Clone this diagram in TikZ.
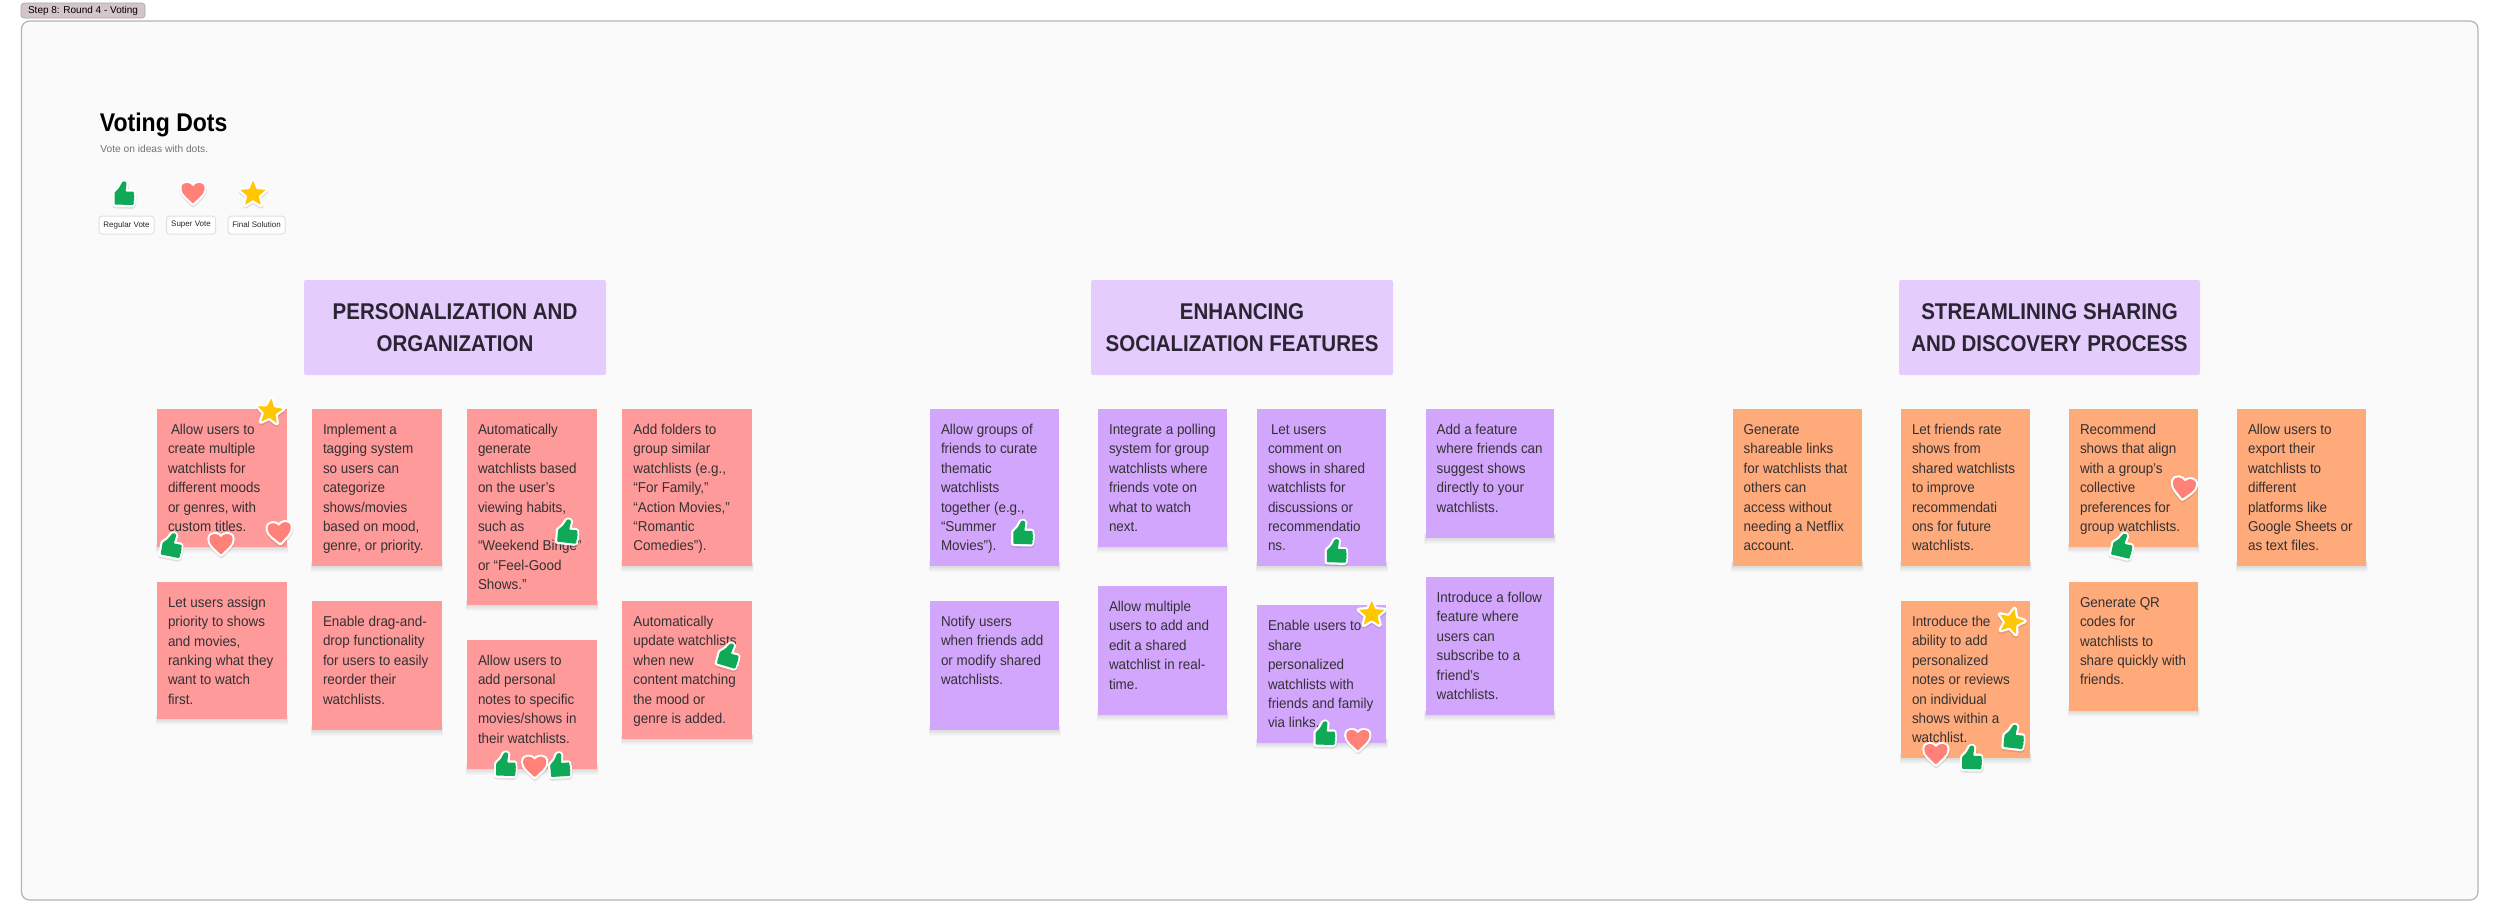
\documentclass[tikz,border=0pt]{standalone}
\usepackage{fontspec}
\setmainfont{Liberation Sans}
\newfontfamily\narrowf[FakeStretch=0.94]{Liberation Sans}
\newfontfamily\headf[FakeStretch=0.90]{Liberation Sans}
\usetikzlibrary{fit,calc}
\definecolor{framebg}{HTML}{FAFAFA}
\definecolor{frameln}{HTML}{B4B4B4}
\definecolor{tagbg}{HTML}{D3C5C8}
\definecolor{redst}{HTML}{FF9A9A}
\definecolor{purst}{HTML}{D2A6FC}
\definecolor{orast}{HTML}{FFAA7A}
\definecolor{headbg}{HTML}{E4CCFD}
\definecolor{headtx}{HTML}{2B2433}
\definecolor{stx}{HTML}{333133}
\definecolor{thumbc}{HTML}{0FA958}
\definecolor{heartc}{HTML}{FF8177}
\definecolor{starc}{HTML}{FFC700}
\tikzset{
  x=0.5pt,y=-0.5pt,
  boxfit/.style={fit={#1},inner sep=0pt,rectangle},
  note/.style={inner sep=0pt,align=left,text=stx,anchor=north west,font=\narrowf\fontsize{7.15}{9.7}\selectfont},
  headbox/.style={fill=headbg,rounded corners=1pt},
  headtext/.style={align=center,inner sep=0pt,text=headtx,font=\headf\fontsize{11.4}{16}\selectfont\bfseries},
  legbox/.style={fill=white,draw=black!12,line width=.5pt,rounded corners=1.5pt},
  legtext/.style={inner sep=0pt,text=black!85,font=\fontsize{4}{5}\selectfont},
  halo/.style={draw=white,fill=white,line width=2.2pt,line join=round},
  haloshadow/.style={draw=black,fill=black,opacity=.10,line width=2.4pt,line join=round}
}
\def\thumbpath{(-9.5,10.5) -- (-9.5,-1.5) -- (-5,-6) -- (-2,-11.5) .. controls (-1,-13) and (2.5,-13) .. (2.5,-10.5) -- (1.5,-2.5) -- (8.5,-2.5) .. controls (10,-2.5) and (10,0.5) .. (9,0.5) .. controls (10.5,0.5) and (10.5,4) .. (9,4) .. controls (10.5,4) and (10.5,7.5) .. (8.8,7.5) .. controls (10,8) and (10,11) .. (8,11) -- cycle}
\def\heartpath{(0,10.5) .. controls (-5,5.5) and (-11.5,1) .. (-11.5,-4.5) .. controls (-11.5,-8.5) and (-9,-10) .. (-6.2,-10) .. controls (-3.8,-10) and (-1.5,-8.8) .. (0,-6.5) .. controls (1.5,-8.8) and (3.8,-10) .. (6.2,-10) .. controls (9,-10) and (11.5,-8.5) .. (11.5,-4.5) .. controls (11.5,1) and (5,5.5) .. (0,10.5) -- cycle}
\def\starpath{(-90:13.5) -- (-54:6) -- (-18:13.5) -- (18:6) -- (54:13.5) -- (90:6) -- (126:13.5) -- (162:6) -- (198:13.5) -- (234:6) -- cycle}
% sticker: path macro, colour, x, y, rotation
\newcommand{\sticker}[5]{%
  \begin{scope}[shift={(#3,#4)},rotate=#5]
    \path[haloshadow,shift={(0.3,1.5)}] #1;
    \path[halo] #1;
    \fill[#2,rounded corners=.4pt] #1;
  \end{scope}}
\newcommand{\thumbv}[3]{\sticker{\thumbpath}{thumbc}{#1}{#2}{#3}}
\newcommand{\heartv}[3]{\sticker{\heartpath}{heartc}{#1}{#2}{#3}}
\newcommand{\starv}[3]{\sticker{\starpath}{starc}{#1}{#2}{#3}}
% sticky: name, colour, x1, y1, x2, y2, text
\newcommand{\sticky}[7]{%
  \foreach \d in {1,2,3,4,5,6}{\fill[black,opacity=.018] (#3-\d*0.25,#6-4) rectangle (#5+\d*0.25,#6+\d);}
  \node[boxfit={(#3,#4)(#5,#6)},fill=#2] (#1) {};
  \node[note] (#1-t) at ([shift={(11,14.5)}]#1.north west) {\rule{0pt}{5.5pt}#7};}
\begin{document}
\begin{tikzpicture}
\useasboundingbox (0,0) rectangle (2500,922);
\fill[white] (0,0) rectangle (2500,922);
% tag + frame
\node[boxfit={(21,3)(145,18)},fill=tagbg,draw=black!35,line width=.3pt,rounded corners=1.5pt] (tag) {};
\node[inner sep=0pt,text=black,font=\fontsize{5}{6}\selectfont] (tagt) at (tag.center) {Step 8: Round 4 - Voting};
\node[boxfit={(21.5,21)(2478,900)},fill=framebg,draw=frameln,line width=.6pt,rounded corners=4pt] (frame) {};
% title
\node[inner sep=0pt,anchor=base west,text=black,font=\headf\fontsize{12.8}{15}\selectfont\bfseries] (title) at (99.5,131) {Voting Dots};
\node[inner sep=0pt,anchor=base west,text=black!55,font=\fontsize{5.1}{7}\selectfont] (sub) at (100,152) {Vote on ideas with dots.};
% legend
\thumbv{124}{194}{0}
\heartv{193}{193}{0}
\starv{253}{194}{0}
\node[boxfit={(99,216)(154,234)},legbox] (l1) {};
\node[legtext] (l1t) at (l1.center) {Regular Vote};
\node[boxfit={(166.5,216)(215.5,234)},legbox] (l2) {};
\node[legtext] (l2t) at (l2.center) {Super Vote};
\node[boxfit={(228,216)(285,234)},legbox] (l3) {};
\node[legtext] (l3t) at (l3.center) {Final Solution};
% headers
\node[boxfit={(304,280)(606,375)},headbox] (h1) {};
\node[headtext] (h1t) at (h1.center) {PERSONALIZATION AND\\ORGANIZATION};
\node[boxfit={(1091,280)(1393,375)},headbox] (h2) {};
\node[headtext] (h2t) at (h2.center) {ENHANCING\\SOCIALIZATION FEATURES};
\node[boxfit={(1899,280)(2200,375)},headbox] (h3) {};
\node[headtext] (h3t) at (h3.center) {STREAMLINING SHARING\\AND DISCOVERY PROCESS};
% red stickies
\sticky{r1}{redst}{157}{409}{286.5}{547}{\hspace*{1.5pt}Allow users to\\create multiple\\watchlists for\\different moods\\or genres, with\\custom titles.}
\sticky{r2}{redst}{157}{581.7}{286.5}{719}{Let users assign\\priority to shows\\and movies,\\ranking what they\\want to watch\\first.}
\sticky{r3}{redst}{312}{409}{441.6}{566}{Implement a\\tagging system\\so users can\\categorize\\shows/movies\\based on mood,\\genre, or priority.}
\sticky{r4}{redst}{312}{601}{441.6}{730}{Enable drag-and-\\drop functionality\\for users to easily\\reorder their\\watchlists.}
\sticky{r5}{redst}{467}{409}{597}{605}{Automatically\\generate\\watchlists based\\on the user’s\\viewing habits,\\such as\\“Weekend Binge”\\or “Feel-Good\\Shows.”}
\sticky{r6}{redst}{467}{640}{597}{769}{Allow users to\\add personal\\notes to specific\\movies/shows in\\their watchlists.}
\sticky{r7}{redst}{622.4}{409}{752}{566}{Add folders to\\group similar\\watchlists (e.g.,\\“For Family,”\\“Action Movies,”\\“Romantic\\Comedies”).}
\sticky{r8}{redst}{622.4}{601}{752}{739}{Automatically\\update watchlists\\when new\\content matching\\the mood or\\genre is added.}
% purple stickies
\sticky{p1}{purst}{930}{409}{1059}{566}{Allow groups of\\friends to curate\\thematic\\watchlists\\together (e.g.,\\“Summer\\Movies”).}
\sticky{p2}{purst}{930}{601}{1059}{730}{Notify users\\when friends add\\or modify shared\\watchlists.}
\sticky{p3}{purst}{1098}{409}{1227}{547}{Integrate a polling\\system for group\\watchlists where\\friends vote on\\what to watch\\next.}
\sticky{p4}{purst}{1098}{586}{1227}{715}{Allow multiple\\users to add and\\edit a shared\\watchlist in real-\\time.}
\sticky{p5}{purst}{1257}{409}{1386.4}{566}{\hspace*{1.5pt}Let users\\comment on\\shows in shared\\watchlists for\\discussions or\\recommendatio\\ns.}
\sticky{p6}{purst}{1257}{605.3}{1386.4}{743}{Enable users to\\share\\personalized\\watchlists with\\friends and family\\via links.}
\sticky{p7}{purst}{1425.6}{409}{1554.4}{538}{Add a feature\\where friends can\\suggest shows\\directly to your\\watchlists.}
\sticky{p8}{purst}{1425.6}{577}{1554.4}{715}{Introduce a follow\\feature where\\users can\\subscribe to a\\friend’s\\watchlists.}
% orange stickies
\sticky{o1}{orast}{1732.6}{409}{1862}{566}{Generate\\shareable links\\for watchlists that\\others can\\access without\\needing a Netflix\\account.}
\sticky{o2}{orast}{1901}{409}{2030}{566}{Let friends rate\\shows from\\shared watchlists\\to improve\\recommendati\\ons for future\\watchlists.}
\sticky{o3}{orast}{1901}{601}{2030}{758}{Introduce the\\ability to add\\personalized\\notes or reviews\\on individual\\shows within a\\watchlist.}
\sticky{o4}{orast}{2069}{409}{2198}{547}{Recommend\\shows that align\\with a group’s\\collective\\preferences for\\group watchlists.}
\sticky{o5}{orast}{2069}{581.7}{2198}{710.7}{Generate QR\\codes for\\watchlists to\\share quickly with\\friends.}
\sticky{o6}{orast}{2237}{409}{2366}{566}{Allow users to\\export their\\watchlists to\\different\\platforms like\\Google Sheets or\\as text files.}
% votes: red
\starv{270}{411.7}{-6}
\heartv{279.6}{532.7}{5}
\thumbv{171.8}{545.7}{-10}
\heartv{221}{544}{0}
\thumbv{567.5}{532}{-5}
\thumbv{728.7}{655.7}{-15}
\thumbv{505.7}{765}{0}
\heartv{534.7}{766.7}{0}
\thumbv{559.7}{765.7}{5}
% votes: purple
\thumbv{1022.8}{533.3}{0}
\thumbv{1336.4}{551.7}{0}
\starv{1371.7}{614}{0}
\thumbv{1325}{734}{0}
\heartv{1357.8}{740}{0}
% votes: orange
\heartv{2183.8}{488.3}{-8}
\thumbv{2122.4}{546}{-12}
\starv{2011.2}{621.7}{-15}
\thumbv{2013.8}{737.3}{-5}
\heartv{1935.9}{754}{0}
\thumbv{1971.7}{758.3}{0}
\end{tikzpicture}
\end{document}
